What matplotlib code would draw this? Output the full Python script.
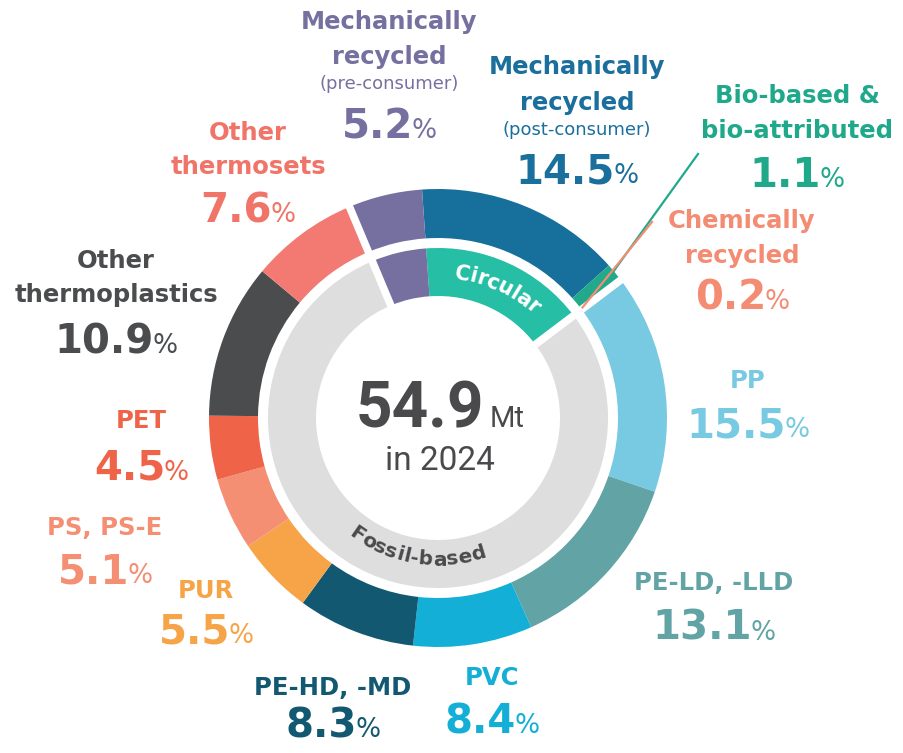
import matplotlib
matplotlib.use("Agg")
import matplotlib.pyplot as plt
import numpy as np
from matplotlib.font_manager import FontProperties

W, H = 904, 753

# ---------------- data ----------------
segments = ["Mechanically recycled (post-consumer)", "Bio-based & bio-attributed",
            "Chemically recycled", "PP", "PE-LD, -LLD", "PVC", "PE-HD, -MD", "PUR",
            "PS, PS-E", "PET", "Other thermoplastics", "Other thermosets",
            "Mechanically recycled (pre-consumer)"]
shares = [14.5, 1.1, 0.2, 15.5, 13.1, 8.4, 8.3, 5.5, 5.1, 4.5, 10.9, 7.6, 5.2]
groups = ["circ", "circ", "circ", "fossil", "fossil", "fossil", "fossil", "fossil",
          "fossil", "fossil", "fossil", "fossil", "pre"]
inner_groups = ["circ", "fossil", "pre"]
inner_names = ["Circular", "Fossil-based", ""]
total_mt = 54.9
year = 2024

# ---------------- style ----------------
seg_colors = ["#176F9B", "#20A98A", "#F48C73", "#77CAE2", "#62A3A5", "#13AFD6",
              "#125870", "#F6A447", "#F48F74", "#EF6349", "#4B4C4E", "#F27A73",
              "#7570A0"]
inner_colors = ["#26BEA5", "#DEDEDE", "#7570A0"]
label_colors = ["#1A6F9C", "#1FA98A", "#F48C73", "#77CAE2", "#62A3A5", "#13AFD6",
                "#125870", "#F6A447", "#F48F74", "#EF6349", "#4B4C4E", "#F07468",
                "#7570A0"]
DARK = "#4A4A4D"

NAME = 17.5
SMALL = 13
layout = [
    (577, [("Mechanically", 74, NAME, "bold"), ("recycled", 110, NAME, "bold"),
           ("(post-consumer)", 135, SMALL, "normal")], 183),
    (797, [("Bio-based &", 103, NAME, "bold"), ("bio-attributed", 138, NAME, "bold")], 187),
    (742, [("Chemically", 228, NAME, "bold"), ("recycled", 263, NAME, "bold")], 309),
    (748, [("PP", 388, NAME, "bold")], 437),
    (714, [("PE-LD, -LLD", 590, NAME, "bold")], 640),
    (492, [("PVC", 685, NAME, "bold")], 733),
    (333, [("PE-HD, -MD", 695, NAME, "bold")], 737),
    (206, [("PUR", 598, NAME, "bold")], 643),
    (105, [("PS, PS-E", 535, NAME, "bold")], 583),
    (141, [("PET", 428, NAME, "bold")], 480),
    (116, [("Other", 268, NAME, "bold"), ("thermoplastics", 302, NAME, "bold")], 353),
    (248, [("Other", 140, NAME, "bold"), ("thermosets", 174, NAME, "bold")], 222),
    (389, [("Mechanically", 29, NAME, "bold"), ("recycled", 64, NAME, "bold"),
           ("(pre-consumer)", 89, SMALL, "normal")], 138),
]

plt.rcParams["font.family"] = ["DejaVu Sans"]

fig = plt.figure(figsize=(W / 100, H / 100), dpi=100)
ax = fig.add_axes([0, 0, 1, 1])

cx, cy = 438, H - 418
R_out, w_out = 229, 49
R_in, w_in = 170, 48
start = 94

ax.pie(shares, radius=R_out, center=(cx, cy), startangle=start, counterclock=False,
       colors=seg_colors, wedgeprops=dict(width=w_out, linewidth=0))

inner_vals = [sum(v for v, g in zip(shares, groups) if g == ig) for ig in inner_groups]
ax.pie(inner_vals, radius=R_in, center=(cx, cy), startangle=start, counterclock=False,
       colors=inner_colors, wedgeprops=dict(width=w_in, linewidth=0))

ax.set_xlim(0, W)
ax.set_ylim(0, H)
ax.set_aspect("equal")
ax.axis("off")

total = sum(shares)


def theta_of(frac):
    return (90 - start) + 360.0 * frac


def pt(theta, r):
    t = np.radians(theta)
    return cx + r * np.sin(t), cy + r * np.cos(t)


cum = np.concatenate([[0], np.cumsum(shares)]) / total

for idx in [3, 12]:
    th = theta_of(cum[idx])
    p1, p2 = pt(th, 112), pt(th, 240)
    ax.plot([p1[0], p2[0]], [p1[1], p2[1]], color="white", lw=5.5, solid_capstyle="butt", zorder=5)

th_bio = theta_of((cum[1] + cum[2]) / 2)
p = pt(th_bio, R_out - 2)
ax.plot([p[0], 698], [p[1], H - 154], color=seg_colors[1], lw=1.6, zorder=6)
th_chem = theta_of((cum[2] + cum[3]) / 2)
p = pt(th_chem, R_out - w_out + 2)
ax.plot([p[0], 652], [p[1], H - 222], color=seg_colors[2], lw=1.6, zorder=6)

renderer = fig.canvas.get_renderer()


def value_label(xc, yb, val, color):
    t1 = ax.text(0, 0, f"{val:.1f}", fontsize=29, fontweight="bold", color=color,
                 va="baseline", ha="left")
    t2 = ax.text(0, 0, "%", fontsize=19, color=color, va="baseline", ha="left")
    w1 = t1.get_window_extent(renderer).width
    w2 = t2.get_window_extent(renderer).width
    gap = -2
    x0 = xc - (w1 + gap + w2) / 2
    t1.set_position((x0, H - yb))
    t2.set_position((x0 + w1 + gap, H - yb))


for (xc, lines, vy), val, col in zip(layout, shares, label_colors):
    for txt, yb, size, wt in lines:
        ax.text(xc, H - yb, txt, fontsize=size, fontweight=wt, color=col,
                ha="center", va="baseline")
    value_label(xc, vy, val, col)


def curved_text(s, th_c, r, size, color, top=True):
    fp = FontProperties(family="DejaVu Sans", weight="bold", size=size)
    widths = [renderer.get_text_width_height_descent(s[:i], fp, ismath=False)[0] if i > 0 else 0.0
              for i in range(len(s) + 1)]
    total_w = widths[-1]
    for i, ch in enumerate(s):
        mid = (widths[i] + widths[i + 1]) / 2 - total_w / 2
        dth = np.degrees(mid / r)
        if top:
            th = th_c + dth
            rot = -th
        else:
            th = th_c - dth
            rot = 180 - th
        x, y = pt(th, r)
        ax.text(x, y, ch, fontproperties=fp, color=color, ha="center", va="center",
                rotation=rot, rotation_mode="anchor", zorder=7)


th_circ = theta_of(inner_vals[0] / total / 2)
curved_text(inner_names[0], th_circ, 146, 15, "white", top=True)
curved_text(inner_names[1], 189, 142, 14.5, DARK, top=False)

t_big = ax.text(0, 0, f"{total_mt:.1f}", fontsize=46, fontweight="bold", color=DARK,
                family=["Roboto", "DejaVu Sans"], va="baseline", ha="left")
t_mt = ax.text(0, 0, "Mt", fontsize=21, color=DARK, family=["Roboto", "DejaVu Sans"],
               va="baseline", ha="left")
wb = t_big.get_window_extent(renderer).width
wm = t_mt.get_window_extent(renderer).width
x0 = 440 - (wb + 6 + wm) / 2
t_big.set_position((x0, H - 427))
t_mt.set_position((x0 + wb + 6, H - 427))
ax.text(440, H - 470, f"in {year}", fontsize=24, color=DARK, family=["Roboto", "DejaVu Sans"],
        ha="center", va="baseline")

fig.savefig("out.png", dpi=100, facecolor="white")
